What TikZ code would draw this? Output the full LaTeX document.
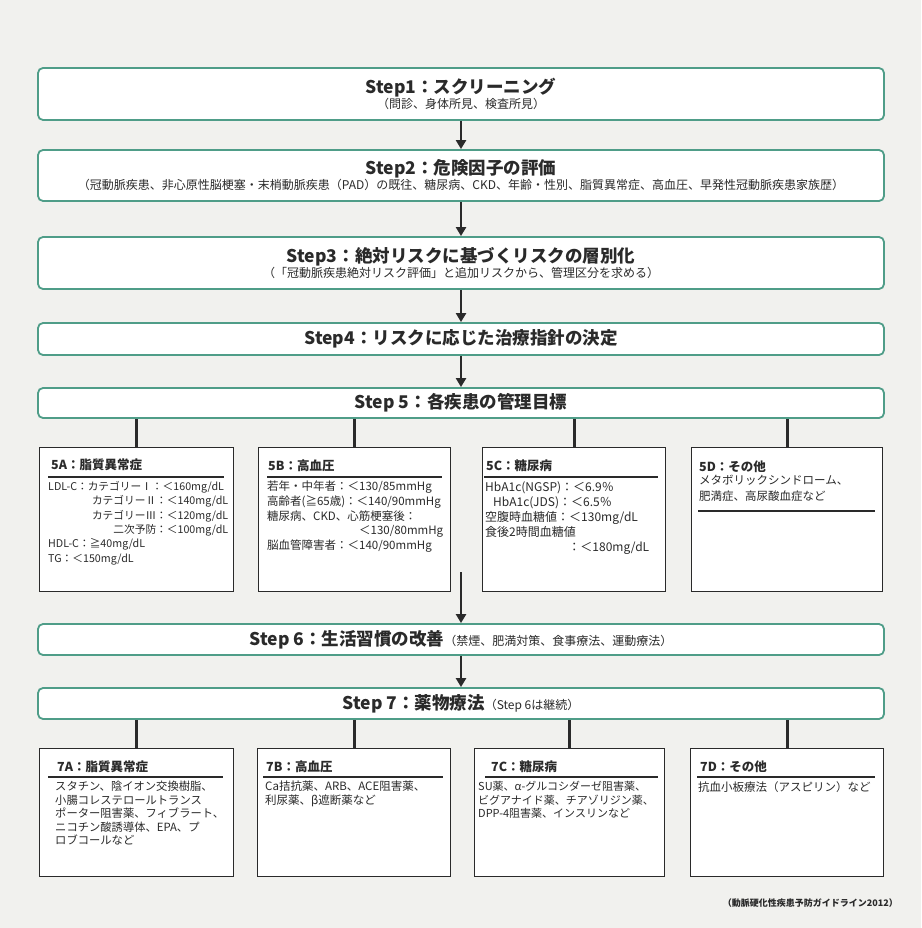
\documentclass[tikz,border=0pt]{standalone}
\usepackage{fontspec}
\setmainfont{Noto Sans CJK JP}
\usetikzlibrary{arrows.meta}
\definecolor{bgc}{HTML}{F1F1EE}
\definecolor{tealb}{HTML}{4F9D88}
\definecolor{ink}{HTML}{2A2A2A}
\newcommand\titlef{\fontsize{17.5}{19}\selectfont\bfseries}
\newcommand\subf{\fontsize{12}{14}\selectfont}
\begin{document}
\begin{tikzpicture}[x=1pt,y=-1pt,
  stepbox/.style={draw=tealb, line width=1.8pt, rounded corners=5pt, fill=white,
    minimum width=846pt, inner sep=0pt, align=center, text=ink, font=\subf},
  sbox/.style={draw=ink, line width=1.4pt, fill=white, inner sep=0pt, anchor=north west},
  hdr/.style={font=\fontsize{12.5}{14}\selectfont\bfseries, inner sep=0pt, anchor=west, text=ink},
  body/.style={font=\fontsize{11.5}{14.6}\selectfont, inner sep=0pt, anchor=north west, align=left, text=ink},
  rulel/.style={draw=ink, line width=1.4pt},
  arr/.style={draw=ink, line width=2.6pt, -{Triangle[length=9pt,width=10pt]}},
  conn/.style={draw=ink, line width=2.6pt}]
\useasboundingbox[fill=bgc] (0,0) rectangle (921,928);

% step boxes
\node[stepbox, minimum height=52pt] (S1) at (461,94)
  {{\titlef Step1：スクリーニング}\\[1pt]（問診、身体所見、検査所見）};
\node[stepbox, minimum height=51pt] (S2) at (461,175.5)
  {{\titlef Step2：危険因子の評価}\\[1pt]（冠動脈疾患、非心原性脳梗塞・末梢動脈疾患（PAD）の既往、糖尿病、CKD、年齢・性別、脂質異常症、高血圧、早発性冠動脈疾患家族歴）};
\node[stepbox, minimum height=52pt] (S3) at (461,263)
  {{\titlef Step3：絶対リスクに基づくリスクの層別化}\\[1pt]（「冠動脈疾患絶対リスク評価」と追加リスクから、管理区分を求める）};
\node[stepbox, minimum height=32pt] (S4) at (461,339)
  {{\titlef Step4：リスクに応じた治療指針の決定}};
\node[stepbox, minimum height=30pt] (S5) at (461,403)
  {{\titlef Step 5：各疾患の管理目標}};
\node[stepbox, minimum height=31pt] (S6) at (461,639.5)
  {{\titlef Step 6：生活習慣の改善}（禁煙、肥満対策、食事療法、運動療法）};
\node[stepbox, minimum height=31pt] (S7) at (461,703.5)
  {{\titlef Step 7：薬物療法}（Step 6は継続）};

\draw[arr] (S1) -- (S2);
\draw[arr] (S2) -- (S3);
\draw[arr] (S3) -- (S4);
\draw[arr] (S4) -- (S5);
\coordinate (c56) at (461,572);
\draw[arr] (c56) -- (S6);
\draw[arr] (S6) -- (S7);

% Step 5 boxes
\node[sbox, minimum width=194pt, minimum height=144pt] (A5) at (39,447) {};
\node[sbox, minimum width=192pt, minimum height=144pt] (B5) at (258,447) {};
\node[sbox, minimum width=183pt, minimum height=144pt] (C5) at (482,447) {};
\node[sbox, minimum width=191pt, minimum height=144pt] (D5) at (691,447) {};
\foreach \b in {A5,B5,C5,D5} \draw[conn] (\b.north) -- (\b.north |- S5.south);

\node[hdr] (A5h) at (51,465) {5A：脂質異常症};
\draw[rulel] (48,477) -- (224,477);
\node[body, font=\fontsize{10.7}{14.4}\selectfont, text width=180pt] (A5t) at (48,481) {LDL-C：カテゴリーⅠ：＜160mg/dL\\
\hspace*{\fill}カテゴリーⅡ：＜140mg/dL\\
\hspace*{\fill}カテゴリーⅢ：＜120mg/dL\\
\hspace*{\fill}二次予防：＜100mg/dL\\
HDL-C：≧40mg/dL\\
TG：＜150mg/dL};

\node[hdr] (B5h) at (268,466) {5B：高血圧};
\draw[rulel] (267,477) -- (442,477);
\node[body, text width=176pt] (B5t) at (267,481) {若年・中年者：＜130/85mmHg\\
高齢者(≧65歳)：＜140/90mmHg\\
糖尿病、CKD、心筋梗塞後：\\
\hspace*{\fill}＜130/80mmHg\\
脳血管障害者：＜140/90mmHg};

\node[hdr] (C5h) at (486,466) {5C：糖尿病};
\draw[rulel] (484,477) -- (658,477);
\node[body, font=\fontsize{12}{15.2}\selectfont, text width=164pt] (C5t) at (485,481) {HbA1c(NGSP)：＜6.9％\\
\hspace*{8pt}HbA1c(JDS)：＜6.5％\\
空腹時血糖値：＜130mg/dL\\
食後2時間血糖値\\
\hspace*{\fill}：＜180mg/dL};

\node[hdr] (D5h) at (699,467) {5D：その他};
\node[body, font=\fontsize{11.5}{16}\selectfont] (D5t) at (699,475) {メタボリックシンドローム、\\肥満症、高尿酸血症など};
\draw[rulel] (698,511) -- (875,511);

% Step 7 boxes
\node[sbox, minimum width=194pt, minimum height=128pt] (A7) at (39,748) {};
\node[sbox, minimum width=193pt, minimum height=128pt] (B7) at (257,748) {};
\node[sbox, minimum width=190pt, minimum height=128pt] (C7) at (474,748) {};
\node[sbox, minimum width=193pt, minimum height=128pt] (D7) at (690,748) {};
\foreach \b in {A7,B7,C7,D7} \draw[conn] (\b.north) -- (\b.north |- S7.south);

\node[hdr] (A7h) at (57,767) {7A：脂質異常症};
\draw[rulel] (48,777) -- (223,777);
\node[body, font=\fontsize{11.3}{13.5}\selectfont] (A7t) at (55,781) {スタチン、陰イオン交換樹脂、\\
小腸コレステロールトランス\\
ポーター阻害薬、フィブラート、\\
ニコチン酸誘導体、EPA、プ\\
ロブコールなど};

\node[hdr] (B7h) at (266,767) {7B：高血圧};
\draw[rulel] (263,777) -- (443,777);
\node[body, font=\fontsize{11.5}{13.5}\selectfont] (B7t) at (265,781) {Ca拮抗薬、ARB、ACE阻害薬、\\利尿薬、β遮断薬など};

\node[hdr] (C7h) at (491,767) {7C：糖尿病};
\draw[rulel] (485,777) -- (658,777);
\node[body, font=\fontsize{11}{13.5}\selectfont] (C7t) at (478,781) {SU薬、α-グルコシダーゼ阻害薬、\\
ビグアナイド薬、チアゾリジン薬、\\
DPP-4阻害薬、インスリンなど};

\node[hdr] (D7h) at (700,767) {7D：その他};
\draw[rulel] (697,777) -- (875,777);
\node[body, font=\fontsize{11.5}{13.5}\selectfont] (D7t) at (698,781) {抗血小板療法（アスピリン）など};

\node[font=\fontsize{9}{11}\selectfont\bfseries, text=ink, anchor=east, inner sep=0pt] (cite) at (898,903) {（動脈硬化性疾患予防ガイドライン2012）};
\end{tikzpicture}
\end{document}
